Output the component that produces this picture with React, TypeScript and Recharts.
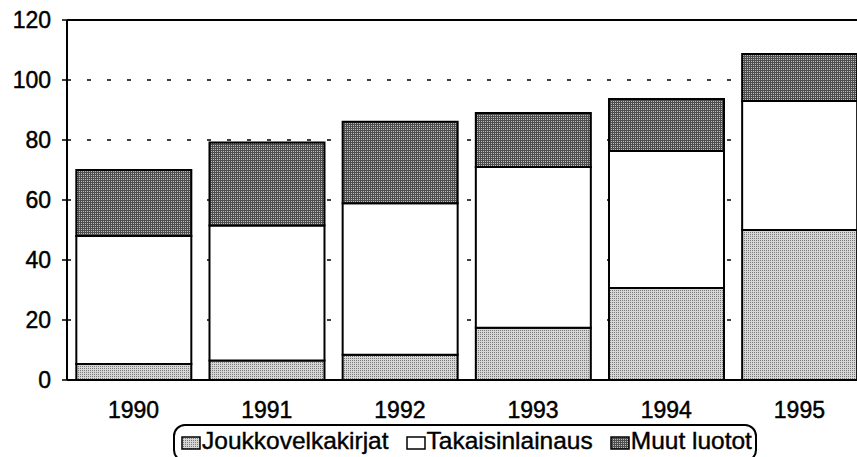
import React from 'react'
import { Bar, BarChart, CartesianGrid, Legend, ReferenceLine, XAxis, YAxis } from 'recharts'

// Values (stacked per year)
const years = ['1990', '1991', '1992', '1993', '1994', '1995']
const seriesNames = ['Joukkovelkakirjat', 'Takaisinlainaus', 'Muut luotot']
const joukkovelkakirjat = [5.3, 6.5, 8.4, 17.4, 30.7, 50]
const takaisinlainaus = [42.7, 45, 50.5, 53.6, 45.6, 43]
const muutLuotot = [22, 27.7, 27.2, 18, 17.4, 15.7]
const yTicks = [0, 20, 40, 60, 80, 100, 120]

const FONT = '"Liberation Sans", Arial, Helvetica, sans-serif'

const rows = years.map((y, i) => ({
  year: y,
  Joukkovelkakirjat: joukkovelkakirjat[i],
  Takaisinlainaus: takaisinlainaus[i],
  'Muut luotot': muutLuotot[i],
}))

const tickStyle = { fill: '#000', stroke: '#000', strokeWidth: 0.45, fontSize: 23, fontFamily: FONT }

function LegendBox({ payload }: any) {
  const items = [...(payload || [])].sort(
    (a: any, b: any) => seriesNames.indexOf(a.value) - seriesNames.indexOf(b.value)
  )
  return (
    <div
      style={{
        display: 'flex',
        alignItems: 'center',
        border: '2px solid #000',
        borderRadius: 12,
        height: 38,
        width: 584,
        padding: '0 0 0 6px',
        fontFamily: FONT,
        fontSize: 24.5,
        color: '#000',
        WebkitTextStroke: '0.4px #000',
        whiteSpace: 'nowrap',
        boxSizing: 'border-box',
      }}
    >
      {items.map((p: any, i: number) => (
        <span
          key={p.value}
          style={{ display: 'flex', alignItems: 'center', marginLeft: i === 0 ? 0 : 17, marginTop: -4 }}
        >
          <svg width={20} height={14} style={{ marginRight: 1, marginTop: 3 }}>
            <rect x={1} y={1} width={18} height={12} fill={p.color} stroke="#000" strokeWidth={1.5} />
          </svg>
          {p.value}
        </span>
      ))}
    </div>
  )
}

export default function App() {
  return (
    <div style={{ position: 'absolute', left: 0, top: 0, width: 857, height: 457, overflow: 'hidden', background: '#fff' }}>
      <BarChart
        width={866}
        height={457}
        data={rows}
        margin={{ top: 20, right: 0, left: 0, bottom: 0 }}
        barCategoryGap="7%"
      >
        <defs>
          <pattern id="lightDots" width={2} height={2} patternUnits="userSpaceOnUse">
            <rect width={2} height={2} fill="#d6d6d6" />
            <rect width={1} height={1} fill="#7a7a7a" />
          </pattern>
          <pattern id="darkDots" width={2} height={2} patternUnits="userSpaceOnUse">
            <rect width={2} height={2} fill="#4e4e4e" />
            <rect x={1} y={1} width={1} height={1} fill="#bdbdbd" />
          </pattern>
        </defs>
        <CartesianGrid vertical={false} stroke="#000" strokeWidth={1.5} strokeDasharray="4 16" />
        <XAxis
          dataKey="year"
          axisLine={{ stroke: '#000', strokeWidth: 2 }}
          tickLine={false}
          tickSize={0}
          tickMargin={22}
          height={39}
          tick={tickStyle}
        />
        <YAxis
          domain={[0, 120]}
          ticks={yTicks}
          width={67}
          axisLine={{ stroke: '#000', strokeWidth: 2 }}
          tickLine={{ stroke: '#000', strokeWidth: 1.5 }}
          tickSize={5}
          tickMargin={11}
          tick={tickStyle}
        />
        <ReferenceLine y={120} stroke="#000" strokeWidth={2} />
        <Bar dataKey="Joukkovelkakirjat" stackId="a" fill="url(#lightDots)" stroke="#000" strokeWidth={2} isAnimationActive={false} />
        <Bar dataKey="Takaisinlainaus" stackId="a" fill="#fff" stroke="#000" strokeWidth={2} isAnimationActive={false} />
        <Bar dataKey="Muut luotot" stackId="a" fill="url(#darkDots)" stroke="#000" strokeWidth={2} isAnimationActive={false} />
        <Legend
          content={<LegendBox />}
          height={38}
          wrapperStyle={{ top: 424, left: 173, width: 'auto', bottom: 'auto' }}
        />
      </BarChart>
    </div>
  )
}
